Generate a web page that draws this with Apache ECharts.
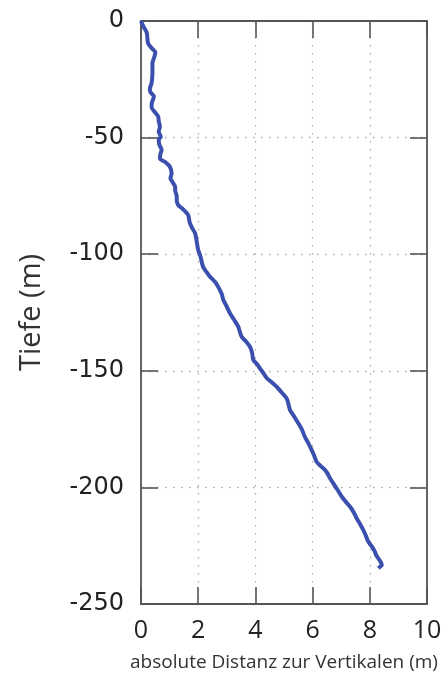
<!DOCTYPE html>
<html>
<head>
<meta charset="utf-8">
<script src="https://cdn.jsdelivr.net/npm/echarts@6/dist/echarts.min.js"></script>
<style>html,body{margin:0;padding:0;background:#fff;}#c{width:448px;height:675px;}</style>
</head>
<body>
<div id="c"></div>
<script>
const depth = [0,-2,-5,-9.6,-12,-13.5,-16,-18,-22,-26.7,-29,-30.5,-32.4,-35,-37,-39,-41,-43,-45.3,-47.5,-49.6,-51,-53,-55.3,-57,-58.9,-60.5,-62.5,-65.3,-67.5,-69,-71,-73,-75.3,-77,-78.9,-80.5,-83.2,-85,-86.7,-89,-91,-94,-98.2,-101,-105.4,-107.5,-109.6,-112,-114,-117,-119.6,-122,-125.3,-128,-131.1,-133,-135.4,-137.5,-139.7,-142,-145.4,-147,-149,-151,-153.2,-155,-156.8,-159,-161.8,-164,-166.8,-169.5,-172.5,-175,-178.3,-181,-184,-186.5,-189,-190.8,-192.5,-194,-196.1,-198.2,-201,-204,-206,-208.3,-210.5,-213.2,-215.5,-218.2,-221,-223.3,-225.5,-227.6,-229,-230.5,-232,-233.3,-234,-234.7];
const distance = [0,0.07,0.20,0.25,0.40,0.50,0.45,0.40,0.40,0.37,0.31,0.33,0.45,0.38,0.37,0.48,0.60,0.62,0.66,0.62,0.69,0.62,0.64,0.72,0.68,0.66,0.85,1.01,1.07,1.03,1.10,1.19,1.20,1.25,1.25,1.30,1.45,1.65,1.68,1.71,1.80,1.89,1.94,2.00,2.08,2.17,2.28,2.41,2.60,2.70,2.82,2.88,2.98,3.11,3.25,3.40,3.45,3.52,3.68,3.81,3.88,3.93,4.05,4.16,4.28,4.40,4.58,4.74,4.90,5.09,5.15,5.21,5.35,5.50,5.62,5.73,5.85,5.97,6.06,6.14,6.28,6.43,6.52,6.61,6.72,6.87,7.02,7.15,7.31,7.43,7.54,7.65,7.77,7.87,7.95,8.08,8.18,8.22,8.30,8.38,8.42,8.36,8.30];
const xTicks = [0,2,4,6,8,10];
const yTicks = [0,-50,-100,-150,-200,-250];
const xName = 'absolute Distanz zur Vertikalen (m)';
const yName = 'Tiefe (m)';

const pts = distance.map((d, i) => [d, depth[i]]);
const frame = '#555555';
const tickCommon = () => ({show: true, inside: true, length: 17, lineStyle: {color: frame, width: 1.6}});
const gridLine = {show: true, lineStyle: {color: '#aaaaaa', width: 1.3, type: [1.5, 6.5]}};
const lineCommon = () => ({show: true, onZero: false, lineStyle: {color: frame, width: 1.8}});

const chart = echarts.init(document.getElementById('c'), null, {renderer: 'canvas'});
chart.setOption({
  animation: false,
  grid: {left: 141, top: 21, right: 21, bottom: 71, containLabel: false, outerBoundsMode: 'none', show: false},
  xAxis: [
    {type: 'value', gridIndex: 0, min: 0, max: 10, interval: 2, position: 'bottom',
     name: xName, nameLocation: 'middle', nameGap: 49,
     nameTextStyle: {fontFamily: 'Open Sans', fontSize: 19, color: '#333'},
     axisLine: lineCommon(),
     axisTick: tickCommon(),
     axisLabel: {fontFamily: 'Open Sans', fontSize: 25, color: '#222', margin: 14,
                 formatter: v => xTicks.includes(v) ? String(v) : ''},
     splitLine: gridLine},
    {type: 'value', gridIndex: 0, show: true, min: 0, max: 10, interval: 2, position: 'top',
     axisLine: lineCommon(),
     axisTick: tickCommon(), axisLabel: {show: false}, splitLine: {show: false}}
  ],
  yAxis: [
    {type: 'value', gridIndex: 0, min: -250, max: 0, interval: 50, position: 'left',
     name: yName, nameLocation: 'middle', nameGap: 95, nameRotate: 90,
     nameTextStyle: {fontFamily: 'Open Sans', fontSize: 29, color: '#333'},
     axisLine: lineCommon(),
     axisTick: tickCommon(),
     axisLabel: {fontFamily: 'DejaVu Sans', fontSize: 24, color: '#222', margin: 17,
                 formatter: v => yTicks.includes(v) ? String(v) : ''},
     splitLine: gridLine},
    {type: 'value', gridIndex: 0, show: true, min: -250, max: 0, interval: 50, position: 'right',
     axisLine: lineCommon(),
     axisTick: tickCommon(), axisLabel: {show: false}, splitLine: {show: false}}
  ],
  series: [
    {type: 'line', xAxisIndex: 0, yAxisIndex: 0, data: pts, showSymbol: false,
     smooth: 0.3, lineStyle: {color: '#3b4fae', width: 4}, z: 5},
    {type: 'line', xAxisIndex: 1, yAxisIndex: 1, data: [], showSymbol: false}
  ]
});
</script>
</body>
</html>
